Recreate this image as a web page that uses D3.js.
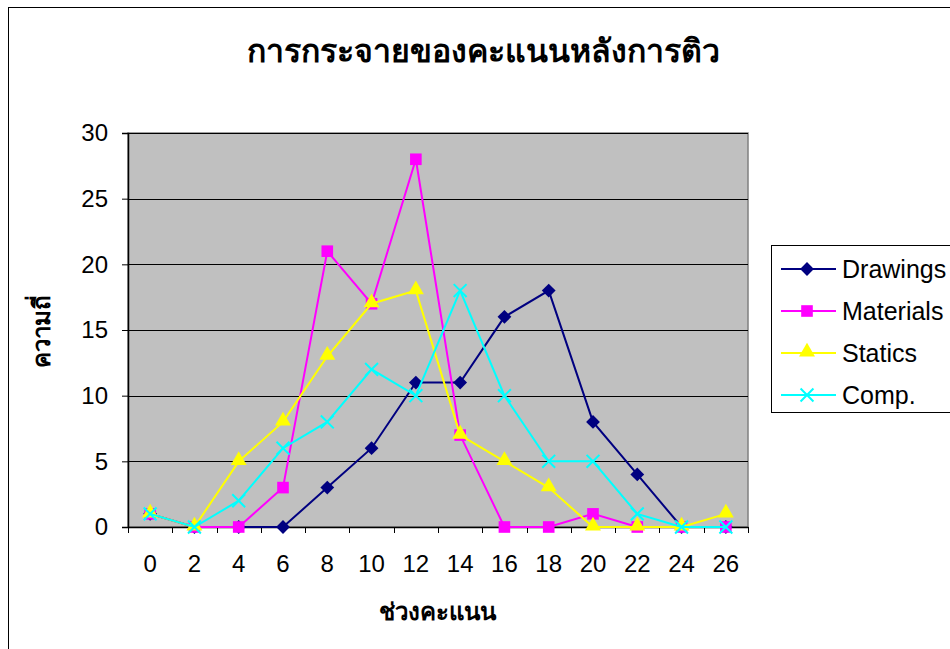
<!DOCTYPE html>
<html><head><meta charset="utf-8">
<script src="https://cdn.jsdelivr.net/npm/d3@7"></script>
<style>
html,body{margin:0;padding:0;background:#fff;}
svg{display:block;}
text{font-family:Arial,"Liberation Sans",sans-serif;fill:#000;}
</style></head>
<body>
<svg id="c" width="950" height="649"></svg>
<script>
const categories = ["0","2","4","6","8","10","12","14","16","18","20","22","24","26"];
const drawings  = [1,0,0,0,3,6,11,11,16,18,8,4,0,0];
const materials = [1,0,0,3,21,17,28,7,0,0,1,0,0,0];
const statics   = [1,0,5,8,13,17,18,7,5,3,0,0,0,1];
const comp      = [1,0,2,6,8,12,10,18,10,5,5,1,0,0];
const yTicks = [0,5,10,15,20,25,30];
const seriesNames = ["Drawings","Materials","Statics","Comp."];
const seriesColors = ["#000080","#FF00FF","#FFFF00","#00FFFF"];
const seriesMarkers = ["diamond","square","triangle","x"];
const titleText = "การกระจายของคะแนนหลังการติว";
const xTitle = "ช่วงคะแนน";
const yTitle = "ความถี่";

const series = [drawings, materials, statics, comp].map((v,i)=>({
  name: seriesNames[i], color: seriesColors[i], marker: seriesMarkers[i], values: v
}));

const svg = d3.select("#c");
const L = 128, R = 748, T = 133, B = 527;

// outer frame
svg.append("rect").attr("x",8.5).attr("y",7.5).attr("width",1000).attr("height",700)
  .attr("fill","#fff").attr("stroke","#000").attr("stroke-width",1);

const x = d3.scaleBand().domain(categories).range([L,R]).padding(0);
const xi = d3.scaleLinear().domain([0,categories.length]).range([L,R]);
const y = d3.scaleLinear().domain([0,30]).range([B,T]);

// plot area
svg.append("rect").attr("x",L).attr("y",T).attr("width",R-L).attr("height",B-T)
  .attr("fill","#C0C0C0").attr("stroke","#808080").attr("stroke-width",1.5);

// gridlines
svg.append("g").selectAll("line").data(yTicks.filter(d=>d>0)).join("line")
  .attr("x1",L).attr("x2",R).attr("y1",d=>Math.round(y(d))+0.5).attr("y2",d=>Math.round(y(d))+0.5)
  .attr("stroke","#000").attr("stroke-width",1);

// y axis
const yAxis = svg.append("g").attr("transform",`translate(${L},0)`)
  .call(d3.axisLeft(y).tickValues(yTicks).tickSize(6).tickPadding(14));
yAxis.select(".domain").attr("stroke","#000").attr("stroke-width",1.5);
yAxis.selectAll("text").attr("font-size",24).attr("font-family","Arial, 'Liberation Sans', sans-serif");

// x axis labels
const xAxis = svg.append("g").attr("transform",`translate(0,${B})`)
  .call(d3.axisBottom(x).tickSize(0).tickPadding(28));
xAxis.select(".domain").attr("stroke","#000").attr("stroke-width",1.5);
xAxis.selectAll("text").attr("font-size",24).attr("font-family","Arial, 'Liberation Sans', sans-serif");
// x boundary ticks
svg.append("g").selectAll("line").data(d3.range(0,categories.length+1)).join("line")
  .attr("x1",d=>Math.round(xi(d))+0.5).attr("x2",d=>Math.round(xi(d))+0.5)
  .attr("y1",B).attr("y2",B+6).attr("stroke","#000").attr("stroke-width",1);

const cx = c => x(c) + x.bandwidth()/2;

function markerPath(type){
  if(type==="diamond") return d3.symbol(d3.symbolSquare, 95)();
  if(type==="square") return d3.symbol(d3.symbolSquare, 135)();
  if(type==="triangle") return d3.symbol(d3.symbolTriangle, 110)();
  return d3.symbol(d3.symbolX, 110)();
}
function drawMarker(g, type, color){
  const p = g.append("path").attr("d", markerPath(type));
  if(type==="x") p.attr("fill","none").attr("stroke",color).attr("stroke-width",2);
  else p.attr("fill",color).attr("stroke","none");
  if(type==="diamond") p.attr("transform","rotate(45)");
  if(type==="triangle") p.attr("transform","translate(0,-1)");
}

const line = d3.line().x((d,i)=>cx(categories[i])).y(d=>y(d));
series.forEach(s=>{
  svg.append("path").datum(s.values).attr("d",line)
    .attr("fill","none").attr("stroke",s.color).attr("stroke-width",2);
  s.values.forEach((v,i)=>{
    const g = svg.append("g").attr("transform",`translate(${cx(categories[i])},${y(v)})`);
    drawMarker(g, s.marker, s.color);
  });
});

// title
svg.append("text").attr("x",483).attr("y",62).attr("text-anchor","middle")
  .attr("font-size",32).attr("font-weight","bold").text(titleText);
// axis titles
svg.append("text").attr("x",437).attr("y",620).attr("text-anchor","middle")
  .attr("font-size",24).attr("font-weight","bold").text(xTitle);
svg.append("text").attr("transform","translate(50,331) rotate(-90)").attr("text-anchor","middle")
  .attr("font-size",24).attr("font-weight","bold").text(yTitle);

// legend
const lg = svg.append("g");
lg.append("rect").attr("x",771.5).attr("y",245.5).attr("width",300).attr("height",167)
  .attr("fill","#fff").attr("stroke","#000").attr("stroke-width",1);
const rowsY = [269,311,353,395];
series.forEach((s,i)=>{
  const g = lg.append("g").attr("transform",`translate(0,${rowsY[i]})`);
  g.append("line").attr("x1",781).attr("x2",836).attr("y1",0).attr("y2",0)
    .attr("stroke",s.color).attr("stroke-width",2);
  const mg = g.append("g").attr("transform","translate(807,0)");
  drawMarker(mg, s.marker, s.color);
  g.append("text").attr("x",842).attr("y",0).attr("dy","0.35em")
    .attr("font-size",25).text(s.name);
});
</script>
</body></html>
